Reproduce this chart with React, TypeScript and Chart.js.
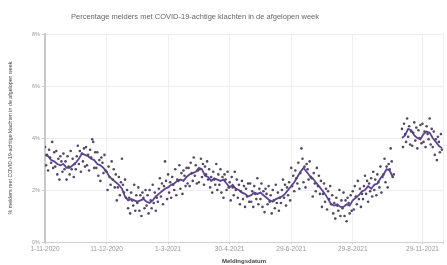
import React, { useEffect, useRef } from "react";
import { Chart, registerables } from "chart.js";

Chart.register(...registerables);

const titleText = "Percentage melders met COVID-19-achtige klachten in de afgelopen week";
const yTitle = "% melders met COVID-19-achtige klachten in de afgelopen week";
const xTitle = "Meldingsdatum";

const tickDays = [0, 60, 120, 180, 240, 300, 368, 388];
const tickLabels = ["1-11-2020", "11-12-2020", "1-3-2021", "30-4-2021", "29-6-2021", "29-8-2021", "29-11-2021", ""];

const yTicks = [0, 2, 4, 6, 8];

// daily values (%) — index = day since 1-11-2020
const pointValues: (number | null)[] = [
  3.65, 2.95, 3.35, 2.75, 3.55, 3.25, 3.05, 3.85, 2.85, 3.45,
  2.9, 3.5, 2.6, 3.2, 2.4, 3.3, 3.1, 2.7, 3.4, 2.8,
  3.1, 2.4, 3.3, 2.9, 2.6, 3.5, 2.8, 3.2, 2.5, 3.0,
  2.8, 3.3, 3.7, 3.0, 3.5, 2.7, 3.4, 3.1, 3.6, 2.9,
  3.65, 2.95, 3.35, 2.75, 3.55, 3.25, 3.95, 3.85, 2.85, 3.45,
  2.85, 3.45, 2.55, 3.15, 2.35, 3.25, 3.05, 2.65, 3.35, 2.75,
  2.7, 2.0, 2.9, 2.5, 2.2, 3.1, 2.4, 2.8, 2.1, 2.6,
  1.6, 2.1, 2.5, 1.8, 2.3, 3.2, 2.2, 1.9, 2.4, 1.7,
  2.0, 1.3, 1.7, 1.1, 1.9, 1.6, 1.4, 2.2, 1.2, 1.8,
  1.5, 2.1, 1.2, 1.8, 1.0, 1.9, 1.7, 1.3, 2.0, 1.4,
  1.8, 1.1, 2.0, 1.6, 1.3, 2.2, 1.5, 1.9, 1.2, 1.7,
  1.55, 2.05, 2.45, 1.75, 2.25, 1.45, 2.15, 3.1, 2.35, 1.65,
  2.6, 1.9, 2.3, 1.7, 2.5, 2.2, 2.0, 2.8, 1.8, 2.4,
  2.35, 2.95, 2.05, 2.65, 1.85, 2.75, 2.55, 2.15, 2.85, 2.25,
  2.85, 2.15, 3.05, 2.65, 2.35, 3.25, 2.55, 2.95, 2.25, 2.75,
  2.3, 2.8, 3.2, 2.5, 3.0, 2.2, 2.9, 2.6, 3.1, 2.4,
  2.8, 2.1, 2.5, 1.9, 2.7, 2.4, 2.2, 3.0, 2.0, 2.6,
  2.2, 2.8, 1.9, 2.5, 1.7, 2.6, 2.4, 2.0, 2.7, 2.1,
  2.3, 1.6, 2.5, 2.1, 1.8, 2.7, 2.0, 2.4, 1.7, 2.2,
  1.45, 1.95, 2.35, 1.65, 2.15, 1.35, 2.05, 1.75, 2.25, 1.55,
  2.25, 1.55, 1.95, 1.35, 2.15, 1.85, 1.65, 2.45, 1.45, 2.05,
  1.65, 2.25, 1.35, 1.95, 1.15, 2.05, 1.85, 1.45, 2.15, 1.55,
  1.8, 1.1, 2.0, 1.6, 1.3, 2.2, 1.5, 1.9, 1.2, 1.7,
  1.5, 2.0, 2.4, 1.7, 2.2, 1.4, 2.1, 1.8, 2.3, 1.6,
  2.85, 2.15, 2.55, 1.95, 2.75, 2.45, 2.25, 3.05, 2.05, 2.65,
  3.6, 3.2, 2.3, 2.9, 2.1, 3.0, 2.8, 2.4, 3.1, 2.5,
  2.45, 1.75, 2.65, 2.25, 1.95, 2.85, 2.15, 2.55, 1.85, 2.35,
  1.35, 1.85, 2.25, 1.55, 2.05, 1.25, 1.95, 1.65, 2.15, 1.45,
  1.8, 1.1, 1.5, 0.9, 1.7, 1.4, 1.2, 2.0, 1.0, 1.6,
  1.3, 1.9, 1.0, 1.6, 0.8, 1.7, 1.5, 1.1, 1.8, 1.2,
  1.95, 1.25, 2.15, 1.75, 1.45, 2.35, 1.65, 2.05, 1.35, 1.85,
  1.65, 2.15, 2.55, 1.85, 2.35, 1.55, 2.25, 1.95, 2.45, 1.75,
  2.7, 2.0, 2.4, 1.8, 2.6, 2.3, 2.1, 2.9, 1.9, 2.5,
  2.6, 3.2, 2.3, 2.9, 2.1, 3.0, 2.8, 3.6, 3.1, 2.5,
  2.6, null, null, null, null, null, null, null,
  4.35, 3.65, 4.55, 4.15, 3.85, 4.75, 4.05, 4.45, 3.75, 4.25,
  3.7, 4.2, 4.6, 3.9, 4.4, 3.6, 4.3, 4.0, 4.5, 3.8,
  4.55, 3.85, 4.25, 3.65, 4.45, 4.15, 3.95, 4.75, 3.75, 4.35,
  3.65, 4.25, 3.35, 3.95, 3.15, 4.05, 3.85, 3.45, 4.15, 3.55,
];

// smoothed line (%) — one value every 3 days
const lineStep = 3;
const lineValues: (number | null)[] = [
  3.35, 3.3, 3.15, 3.1, 3.0, 2.95, 3.0, 2.85, 2.85, 2.95,
  3.05, 3.2, 3.4, 3.35, 3.3, 3.2, 3.15, 3.0, 2.95, 2.85,
  2.7, 2.5, 2.4, 2.3, 2.2, 2.05, 1.75, 1.6, 1.65, 1.6,
  1.55, 1.6, 1.65, 1.55, 1.5, 1.6, 1.75, 1.85, 1.95, 2.05,
  2.1, 2.2, 2.25, 2.35, 2.4, 2.35, 2.5, 2.6, 2.65, 2.7,
  2.85, 2.8, 2.55, 2.5, 2.35, 2.45, 2.4, 2.35, 2.4, 2.25,
  2.1, 2.2, 2.05, 2.0, 1.9, 1.85, 1.75, 1.8, 1.9, 1.85,
  1.9, 1.8, 1.7, 1.6, 1.55, 1.65, 1.7, 1.75, 1.85, 2.0,
  2.15, 2.3, 2.5, 2.7, 2.85, 2.7, 2.55, 2.45, 2.3, 2.15,
  2.0, 1.85, 1.65, 1.45, 1.4, 1.45, 1.35, 1.35, 1.45, 1.4,
  1.6, 1.7, 1.8, 1.95, 2.0, 2.15, 2.05, 2.2, 2.25, 2.45,
  2.6, 2.8, 2.75, 2.5, null, null, 4.0, 4.1, 4.35, 4.3,
  4.1, 4.0, 3.95, 4.15, 4.25, 4.2, 4.0, 3.85, 3.7, 3.6,
];

const titlePlugin = {
  id: "customTitle",
  afterDraw(chart: any) {
    const ctx = chart.ctx;
    ctx.save();
    ctx.font = "7.5px 'Liberation Sans', Arial, sans-serif";
    ctx.fillStyle = "#666";
    ctx.textAlign = "center";
    ctx.textBaseline = "middle";
    ctx.fillText(titleText, 195, 17);
    ctx.restore();
  },
};

export default function App() {
  const ref = useRef<HTMLCanvasElement>(null);
  useEffect(() => {
    if (!ref.current) return;
    const points = pointValues.map((v, i) => ({ x: i, y: v }));
    const line = lineValues.map((v, i) => ({ x: i * lineStep, y: v }));
    const chart = new Chart(ref.current, {
      type: "line",
      data: {
        datasets: [
          {
            data: points as any,
            showLine: false,
            pointRadius: 1.3,
            pointBorderWidth: 0,
            pointBackgroundColor: "#514866",
            pointBorderColor: "#514866",
          },
          {
            data: line as any,
            borderColor: "#5f4398",
            borderWidth: 1.8,
            pointRadius: 0,
            fill: false,
            spanGaps: false,
            tension: 0,
          },
        ],
      },
      options: {
        animation: false,
        responsive: false,
        maintainAspectRatio: false,
        layout: { padding: { top: 34, right: 4, left: 3, bottom: 0 } },
        plugins: { legend: { display: false }, tooltip: { enabled: false }, title: { display: false } },
        scales: {
          x: {
            type: "linear",
            min: 0,
            max: 388,
            afterBuildTicks: (s: any) => {
              s.ticks = tickDays.map((v) => ({ value: v }));
            },
            afterFit: (s: any) => {
              s.height = 23;
            },
            ticks: {
              autoSkip: false,
              maxRotation: 0,
              padding: 1,
              font: { size: 6.5, family: "'Liberation Sans', Arial, sans-serif" },
              color: "#999",
              callback: (v: any) => {
                const i = tickDays.indexOf(Number(v));
                return i >= 0 ? tickLabels[i] : "";
              },
            },
            grid: { color: "#eeeeee", lineWidth: 1, drawTicks: true, tickLength: 2, tickColor: "#ccc" },
            border: { color: "#d0d0d0", width: 1 },
            title: {
              display: true,
              text: xTitle,
              font: { size: 6, weight: "bold", family: "'Liberation Sans', Arial, sans-serif" },
              color: "#444",
              padding: { top: 2, bottom: 0 },
            },
          },
          y: {
            min: 0,
            max: 8,
            afterBuildTicks: (s: any) => {
              s.ticks = yTicks.map((v) => ({ value: v }));
            },
            afterFit: (s: any) => {
              s.width = 42;
            },
            ticks: {
              padding: 2,
              font: { size: 5.5, family: "'Liberation Sans', Arial, sans-serif" },
              color: "#999",
              callback: (v: any) => v + "%",
            },
            grid: { color: "#eeeeee", lineWidth: 1, tickLength: 3, tickColor: "#ccc" },
            border: { color: "#c8c8c8", width: 2 },
            title: {
              display: true,
              text: yTitle,
              font: { size: 5.3, family: "'Liberation Sans', Arial, sans-serif" },
              color: "#444",
              padding: { top: 4, bottom: 2 },
            },
          },
        },
      },
      plugins: [titlePlugin],
    });
    return () => chart.destroy();
  }, []);
  return (
    <div style={{ position: "absolute", left: 0, top: 0, width: 447, height: 265, background: "#fff" }}>
      <canvas ref={ref} width={447} height={265} style={{ width: 447, height: 265 }} />
    </div>
  );
}
